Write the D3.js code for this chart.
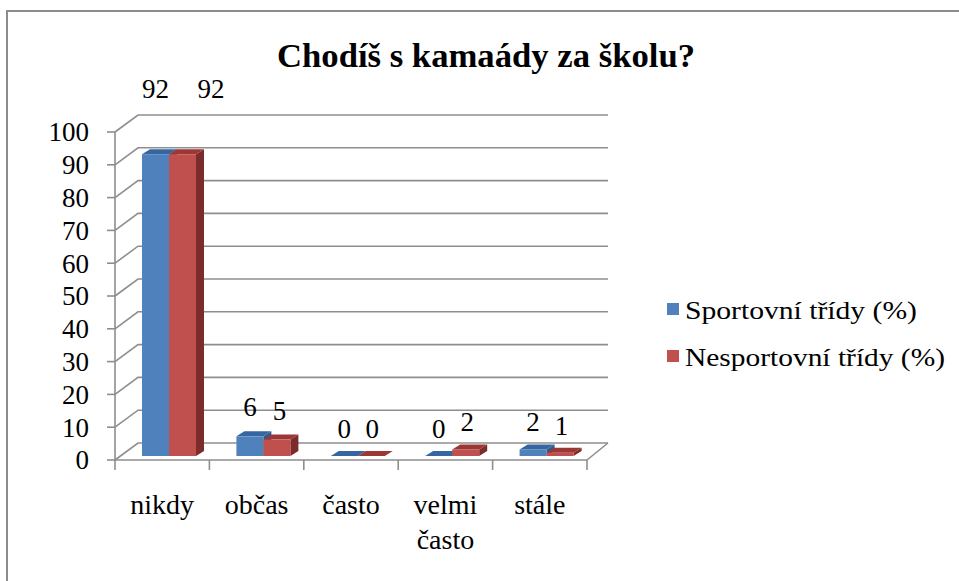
<!DOCTYPE html>
<html>
<head>
<meta charset="utf-8">
<script src="https://cdn.jsdelivr.net/npm/d3@7"></script>
<style>
  body { margin: 0; background: #fff; }
</style>
</head>
<body>
<div id="chart"></div>
<script>
const categories = ['nikdy', 'občas', 'často', 'velmi často', 'stále'];
const seriesNames = ['Sportovní třídy (%)', 'Nesportovní třídy (%)'];
const sportovni = [92, 6, 0, 0, 2];
const nesportovni = [92, 5, 0, 2, 1];
const yTicks = [0, 10, 20, 30, 40, 50, 60, 70, 80, 90, 100];

const colors = [
  { front: '#4f81bd', top: '#3566a0', side: '#2f5a8d' },
  { front: '#c0504d', top: '#9b3734', side: '#7a2d2b' }
];

const width = 959, height = 581;
const serif = "'Liberation Serif', Tinos, 'Times New Roman', 'DejaVu Serif', serif";

const svg = d3.select('#chart').append('svg')
  .attr('width', width)
  .attr('height', height)
  .style('display', 'block')
  .attr('font-family', serif);

// frame (only top and left edges are visible in the crop)
svg.append('path')
  .attr('d', `M7,${height} V11 H${width}`)
  .attr('fill', 'none')
  .attr('stroke', '#8c8c8c')
  .attr('stroke-width', 2);

// title
svg.append('text')
  .attr('x', 486)
  .attr('y', 67)
  .attr('text-anchor', 'middle')
  .attr('font-weight', 'bold')
  .attr('font-size', 34)
  .attr('textLength', 418)
  .attr('lengthAdjust', 'spacingAndGlyphs')
  .text('Chodíš s kamaády za školu?');

// 3D projection: depth offset of the back wall
const depth = { dx: 23, dy: -17 };

const x = d3.scaleBand().domain(categories).range([115, 587]);
const y = d3.scaleLinear().domain([0, 100]).range([460, 132]);

const grid = svg.append('g')
  .attr('fill', 'none')
  .attr('stroke', '#8e8e8e')
  .attr('stroke-width', 1.6);

// back wall gridlines + left wall diagonals
yTicks.forEach(t => {
  const yy = y(t);
  grid.append('path')
    .attr('d', `M115,${yy} L${115 + depth.dx},${yy + depth.dy} H${587 + depth.dx - 2}`);
});

// floor right edge
grid.append('path')
  .attr('d', `M587,460 L${587 + depth.dx - 2},${460 + depth.dy}`);

// front axes
grid.append('path').attr('d', `M115,${y(100)} V460 H587`);

// y ticks
yTicks.forEach(t => {
  grid.append('line')
    .attr('x1', 107).attr('x2', 115)
    .attr('y1', y(t)).attr('y2', y(t));
});

// x ticks
const xEdges = categories.map(c => x(c)).concat([587]);
xEdges.forEach(xx => {
  grid.append('line')
    .attr('x1', xx).attr('x2', xx)
    .attr('y1', 460).attr('y2', 470);
});

// y tick labels
svg.append('g').selectAll('text')
  .data(yTicks)
  .join('text')
  .attr('x', 89)
  .attr('y', d => y(d))
  .attr('dy', '0.35em')
  .attr('text-anchor', 'end')
  .attr('font-size', 27)
  .text(d => d);

// category labels
svg.append('g').selectAll('text')
  .data(categories)
  .join('text')
  .attr('x', d => x(d) + x.bandwidth() / 2)
  .attr('y', 514)
  .attr('text-anchor', 'middle')
  .attr('font-size', 28)
  .selectAll('tspan')
  .data(d => d.split(' '))
  .join('tspan')
  .attr('x', function () { return this.parentNode.getAttribute('x'); })
  .attr('dy', (d, i) => i === 0 ? 0 : 35)
  .text(d => d);

// bars
const barW = 27;
const barFront = { dx: 5, dy: -4 };
const barDepth = { dx: 8, dy: -5 };
const barsG = svg.append('g');
const series = [sportovni, nesportovni];

categories.forEach((cat, ci) => {
  series.forEach((vals, si) => {
    const v = vals[ci];
    const x0 = x(cat) + 22 + si * barW + barFront.dx;
    const x1 = x0 + barW;
    const yb = y(0) + barFront.dy;
    const yt = yb - (y(0) - y(v));
    const c = colors[si];
    const g = barsG.append('g');
    // side face
    g.append('path')
      .attr('d', `M${x1},${yb} L${x1 + barDepth.dx},${yb + barDepth.dy} L${x1 + barDepth.dx},${yt + barDepth.dy} L${x1},${yt} Z`)
      .attr('fill', c.side);
    // top face
    g.append('path')
      .attr('d', `M${x0},${yt} L${x0 + barDepth.dx},${yt + barDepth.dy} L${x1 + barDepth.dx},${yt + barDepth.dy} L${x1},${yt} Z`)
      .attr('fill', c.top);
    // front face
    g.append('rect')
      .attr('x', x0).attr('y', yt)
      .attr('width', barW).attr('height', Math.max(0, yb - yt))
      .attr('fill', c.front);
  });
});

// value labels (Excel pushes them further up on taller bars)
const labelsG = svg.append('g')
  .attr('font-size', 27)
  .attr('text-anchor', 'middle');

categories.forEach((cat, ci) => {
  series.forEach((vals, si) => {
    const v = vals[ci];
    const cx = x(cat) + 22 + si * barW + barFront.dx + barW / 2 + (si === 1 ? 1 + 0.3 * v : 0);
    const cy = y(0) + barFront.dy - (y(0) - y(v)) - 27 - 0.42 * v;
    labelsG.append('text')
      .attr('x', cx)
      .attr('y', cy)
      .attr('dy', '0.35em')
      .text(v);
  });
});

// legend
const legendWidths = [232, 260];
const legend = svg.append('g');
seriesNames.forEach((name, i) => {
  const ly = 310 + i * 47;
  legend.append('rect')
    .attr('x', 667).attr('y', ly - 7)
    .attr('width', 12).attr('height', 12)
    .attr('fill', colors[i].front);
  legend.append('text')
    .attr('x', 685)
    .attr('y', ly)
    .attr('dy', '0.35em')
    .attr('font-size', 26)
    .attr('textLength', legendWidths[i])
    .attr('lengthAdjust', 'spacingAndGlyphs')
    .text(name);
});
</script>
</body>
</html>
